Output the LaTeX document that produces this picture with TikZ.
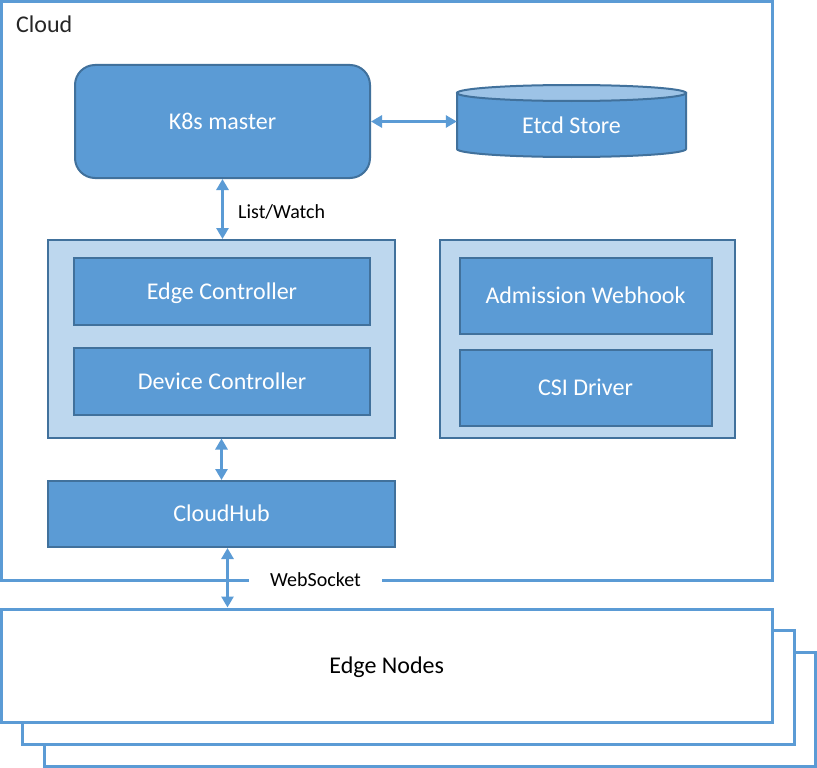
\documentclass[tikz,border=0pt]{standalone}
\usepackage{fontspec}
\setmainfont{Carlito}
\usetikzlibrary{arrows.meta,calc}
\definecolor{blu}{HTML}{5B9BD5}
\definecolor{dblu}{HTML}{41719C}
\definecolor{lblu}{HTML}{BDD7EE}
\definecolor{tblu}{HTML}{9DC3E6}
\definecolor{txt}{HTML}{262626}
\begin{document}
\begin{tikzpicture}[x=1pt,y=-1pt,
  bigtxt/.style={font=\fontsize{24}{28}\selectfont, text height=15.5pt, text depth=0pt},
  box/.style={draw=dblu, line width=2pt, fill=blu, text=white, bigtxt, inner sep=0pt},
  grp/.style={draw=dblu, line width=2pt, fill=lblu, inner sep=0pt},
  frm/.style={draw=blu, line width=3pt, fill=white, inner sep=0pt},
  lbl/.style={font=\fontsize{20}{24}\selectfont, text height=13pt, text depth=0pt, text=black, inner sep=0pt},
  arr/.style={draw=blu, line width=3pt, {Triangle[length=11pt,width=12pt]}-{Triangle[length=11pt,width=12pt]}}
]
\useasboundingbox (0,0) rectangle (817,768);
% cloud frame
\node[frm, minimum width=770.5pt, minimum height=578.5pt] (cloud) at (386.75,290.75) {};
\node[anchor=base west, font=\fontsize{24}{28}\selectfont, text=txt, inner sep=0pt] (cloudlbl) at (16,33) {Cloud};
% edge nodes stack
\node[frm, minimum width=771pt, minimum height=114pt] (e3) at (429.5,709) {};
\node[frm, minimum width=772pt, minimum height=114pt] (e2) at (408,687) {};
\node[frm, minimum width=770.5pt, minimum height=113pt, bigtxt] (e1) at (386.75,665.5) {Edge Nodes};
% k8s master
\node[box, rounded corners=20pt, minimum width=295pt, minimum height=113pt] (k8s) at (222.5,121.5) {K8s master};
% etcd cylinder
\draw[draw=dblu, fill=blu, line width=2pt] (457,93) -- (457,149)
  arc[start angle=180, end angle=360, x radius=114.5pt, y radius=8pt] -- (686,93) -- cycle;
\draw[draw=dblu, fill=tblu, line width=2pt] (571.5,93) ellipse [x radius=114.5pt, y radius=8pt];
\node[text=white, bigtxt, inner sep=0pt, minimum width=229pt, minimum height=64pt] (etcd) at (571.5,126) {Etcd Store};
% left group
\node[grp, minimum width=347pt, minimum height=197.5pt] (lgrp) at (221.5,338.75) {};
\node[box, minimum width=296pt, minimum height=67pt] (ectl) at (222,291.5) {Edge Controller};
\node[box, minimum width=296pt, minimum height=67pt] (dctl) at (222,381.5) {Device Controller};
% right group
\node[grp, minimum width=295.5pt, minimum height=197.5pt] (rgrp) at (587.25,338.75) {};
\node[box, minimum width=252pt, minimum height=76pt] (adm) at (585.5,296) {Admission Webhook};
\node[box, minimum width=252pt, minimum height=76pt] (csi) at (585.5,387.5) {CSI Driver};
% cloudhub
\node[box, minimum width=347pt, minimum height=66pt] (hub) at (221.5,514) {CloudHub};
% labels
\node[lbl, anchor=west] (lw) at (238,212) {List/Watch};
\node[lbl, fill=white, minimum width=133pt, minimum height=16pt] (ws) at (315.5,580) {WebSocket};
% arrows
\draw[arr] (k8s.east) -- (k8s.east -| etcd.west);
\draw[arr] (k8s.south) -- (k8s.south |- lgrp.north);
\draw[arr] (lgrp.south) -- (lgrp.south |- hub.north);
\draw[arr] ([xshift=6pt]hub.south) -- ([xshift=6pt]hub.south |- e1.north);
\end{tikzpicture}
\end{document}
